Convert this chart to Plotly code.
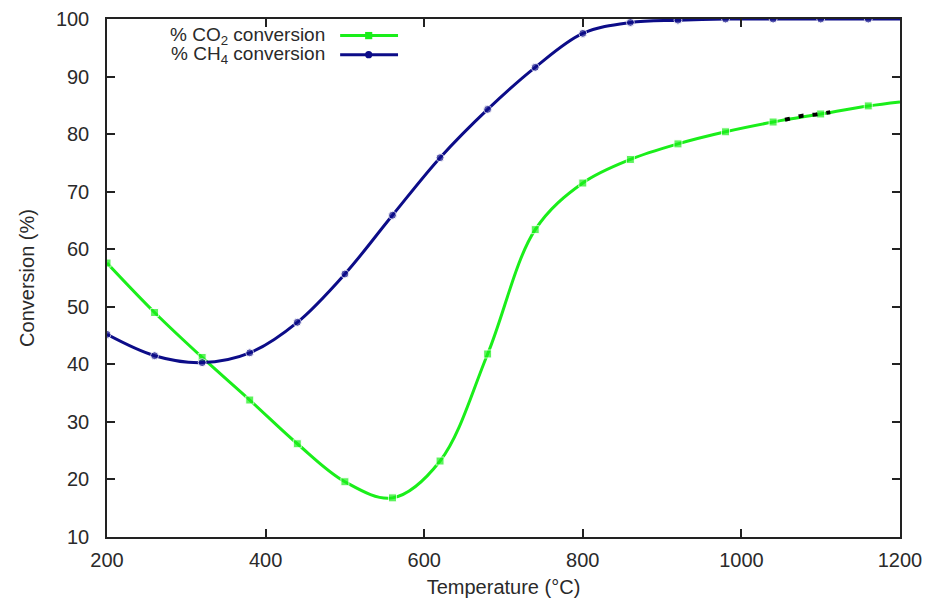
import plotly.graph_objects as go

temperature = [200, 260, 320, 380, 440, 500, 560, 620, 680, 740, 800, 860, 920, 980, 1040, 1100, 1160, 1200]
co2_conversion = [57.6, 49.0, 41.2, 33.8, 26.2, 19.6, 16.8, 23.2, 41.8, 63.4, 71.5, 75.6, 78.3, 80.4, 82.1, 83.5, 84.9, 85.6]
ch4_conversion = [45.2, 41.5, 40.3, 42.0, 47.3, 55.7, 65.9, 75.9, 84.3, 91.6, 97.5, 99.4, 99.8, 100.0, 100.0, 100.0, 100.0, 100.0]
marker_sizes = [8] * 17 + [0]

# small black dashed artifact over the CO2 curve
artifact_x = [1055, 1077, 1094, 1112]
artifact_y = [82.5, 83.2, 83.4, 83.8]

x_ticks = [200, 400, 600, 800, 1000, 1200]
y_ticks = [10, 20, 30, 40, 50, 60, 70, 80, 90, 100]

GREEN = "#1aee1a"
BLUE = "#0c0c88"
TXT = "#2a2a2a"
FONT = "Liberation Sans, Arial, sans-serif"
FS = 20

fig = go.Figure()
fig.add_trace(go.Scatter(
    x=temperature, y=co2_conversion, mode="lines+markers",
    line=dict(color=GREEN, width=3, shape="spline", smoothing=1.0),
    marker=dict(symbol="square", size=marker_sizes, color=GREEN),
    showlegend=False))
fig.add_trace(go.Scatter(
    x=temperature, y=ch4_conversion, mode="lines+markers",
    line=dict(color=BLUE, width=3, shape="spline", smoothing=1.0),
    marker=dict(symbol="circle", size=marker_sizes, color=BLUE),
    showlegend=False))
fig.add_trace(go.Scatter(
    x=artifact_x, y=artifact_y, mode="lines",
    line=dict(color="black", width=4, dash="5px,9px"),
    showlegend=False))

# manual legend (text left of line sample, as in gnuplot)
legend_items = [("% CO<sub>2</sub> conversion", GREEN, "square", 0.968),
                ("% CH<sub>4</sub> conversion", BLUE, "circle", 0.931)]
for label, col, sym, yy in legend_items:
    fig.add_annotation(x=0.277, y=yy, xref="paper", yref="paper", text=label,
                       showarrow=False, xanchor="right", yanchor="middle",
                       font=dict(family=FONT, size=FS - 1, color=TXT))
    fig.add_shape(type="line", xref="paper", yref="paper",
                  x0=0.294, x1=0.367, y0=yy, y1=yy,
                  line=dict(color=col, width=3))
    fig.add_shape(type="rect" if sym == "square" else "circle",
                  xref="paper", yref="paper",
                  x0=0.330 - 0.0045, x1=0.330 + 0.0045,
                  y0=yy - 0.007, y1=yy + 0.007,
                  line=dict(width=0), fillcolor=col)

axis_common = dict(showgrid=False, zeroline=False, showline=True, linecolor="#222",
                   linewidth=1.5, mirror="ticks", ticks="inside", ticklen=8,
                   tickwidth=1.5, tickcolor="#222", automargin=False,
                   tickfont=dict(family=FONT, size=FS, color=TXT))

fig.update_xaxes(range=[200, 1200], tickvals=x_ticks, ticklabelstandoff=4,
                 title=dict(text="Temperature (°C)", font=dict(family=FONT, size=FS, color=TXT), standoff=12),
                 **axis_common)
fig.update_yaxes(range=[10, 100], tickvals=y_ticks, ticklabelstandoff=12,
                 title=dict(text="Conversion (%)", font=dict(family=FONT, size=FS, color=TXT), standoff=16),
                 **axis_common)

fig.update_layout(width=930, height=598, margin=dict(l=107, r=30, t=19, b=61),
                  plot_bgcolor="white", paper_bgcolor="white",
                  font=dict(family=FONT))

fig.write_html("out.html")
